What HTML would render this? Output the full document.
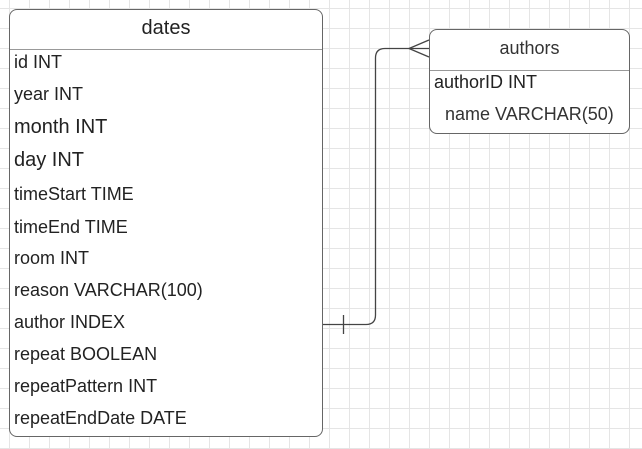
<!DOCTYPE html>
<html><head><meta charset="utf-8"><style>
html,body{margin:0;padding:0}
body{width:642px;height:449px;position:relative;overflow:hidden;background:#fff;
background-image:linear-gradient(#e5e5e5 1px,transparent 1px),linear-gradient(90deg,#e5e5e5 1px,transparent 1px);
background-size:20px 20px;background-position:9px 8px;font-family:"Liberation Sans",sans-serif;color:#222}
.t{position:absolute;background:#fff;border:1px solid #666;border-radius:8px;box-sizing:border-box}
.h{position:absolute;left:0;right:0;border-bottom:1px solid #999;text-align:center}
.r{position:absolute;font-size:18px;white-space:nowrap}
</style></head><body>
<div class="t" style="left:9px;top:9px;width:314px;height:428px">
 <div class="h" style="top:0;height:39px;line-height:36px;font-size:20px">dates</div>
</div>
<div class="r" style="left:14px;top:52px">id INT</div>
<div class="r" style="left:14px;top:84px">year INT</div>
<div class="r" style="left:14px;top:116px;font-size:20px">month INT</div>
<div class="r" style="left:14px;top:149px;font-size:20px">day INT</div>
<div class="r" style="left:14px;top:184px">timeStart TIME</div>
<div class="r" style="left:14px;top:217px">timeEnd TIME</div>
<div class="r" style="left:14px;top:248px">room INT</div>
<div class="r" style="left:14px;top:280px">reason VARCHAR(100)</div>
<div class="r" style="left:14px;top:312px">author INDEX</div>
<div class="r" style="left:14px;top:344px">repeat BOOLEAN</div>
<div class="r" style="left:14px;top:376px">repeatPattern INT</div>
<div class="r" style="left:14px;top:408px">repeatEndDate DATE</div>

<div class="t" style="left:429px;top:29px;width:201px;height:105px">
 <div class="h" style="top:0;height:40px;line-height:36px;font-size:18px;color:#333">authors</div>
</div>
<div class="r" style="left:434px;top:72px">authorID INT</div>
<div class="r" style="left:445px;top:104px;color:#333">name VARCHAR(50)</div>

<svg width="642" height="449" style="position:absolute;left:0;top:0" fill="none" stroke="#444" stroke-width="1.3">
<path d="M323 324.5 H366 Q375.5 324.5 375.5 315 V58 Q375.5 48.5 385 48.5 H429"/>
<path d="M343.5 315 V334"/>
<path d="M429 40 L409 48.5 L429 57"/>
</svg>
</body></html>
